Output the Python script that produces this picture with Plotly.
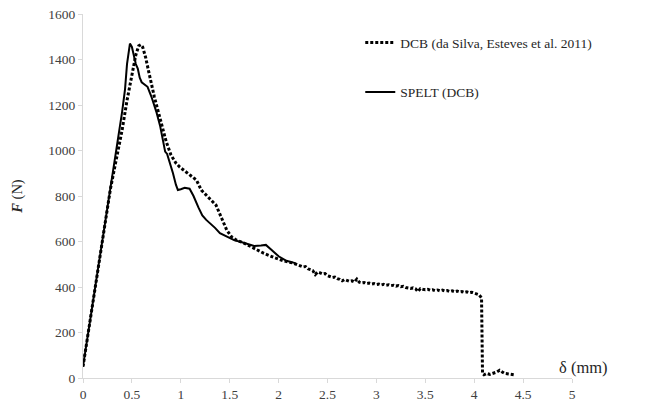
import plotly.graph_objects as go

# SPELT (DCB) - solid curve
spelt_x = [0.0, 0.05, 0.1, 0.15, 0.2, 0.25, 0.3, 0.35, 0.4, 0.43, 0.45, 0.47, 0.48, 0.5,
           0.52, 0.54, 0.56, 0.58, 0.6, 0.63, 0.66, 0.7, 0.75, 0.79, 0.82, 0.84, 0.86, 0.88,
           0.92, 0.95, 0.97, 1.0, 1.04, 1.09, 1.13, 1.18, 1.22, 1.26, 1.3, 1.35, 1.4, 1.47,
           1.55, 1.6, 1.68, 1.75, 1.82, 1.87, 1.92, 2.0, 2.08, 2.17]
spelt_y = [50, 190, 330, 470, 610, 750, 890, 1020, 1170, 1270, 1380, 1440, 1470, 1455,
           1420, 1380, 1360, 1320, 1300, 1290, 1280, 1236, 1170, 1105, 1040, 995, 985, 960,
           900, 850, 826, 830, 836, 832, 800, 750, 715, 695, 680, 660, 637, 621,
           605, 600, 590, 580, 582, 585, 566, 535, 515, 505]

# DCB (da Silva, Esteves et al. 2011) - dotted curve
dcb_x = [0.0, 0.1, 0.2, 0.28, 0.34, 0.4, 0.45, 0.5, 0.54, 0.57, 0.59, 0.61, 0.64, 0.67,
         0.7, 0.73, 0.77, 0.81, 0.85, 0.9, 0.95, 0.99, 1.05, 1.1, 1.16, 1.21, 1.28, 1.36,
         1.42, 1.47, 1.52, 1.57, 1.65, 1.75, 1.85, 1.95, 2.05, 2.15,
         2.2, 2.225, 2.25, 2.275, 2.3, 2.325, 2.35, 2.375, 2.4, 2.425, 2.45, 2.475,
         2.5, 2.525, 2.55, 2.575, 2.6, 2.625, 2.65, 2.675, 2.7, 2.725, 2.75, 2.775,
         2.8, 2.825, 2.85, 2.875, 2.9, 2.925, 2.95, 2.975, 3.0, 3.025, 3.05, 3.075,
         3.1, 3.125, 3.15, 3.175, 3.2, 3.225, 3.25, 3.275, 3.3, 3.325, 3.35, 3.375,
         3.4, 3.425, 3.45, 3.475, 3.5, 3.525, 3.55, 3.575, 3.6, 3.625, 3.65, 3.675,
         3.7, 3.725, 3.75, 3.775, 3.8, 3.825, 3.85, 3.875, 3.9, 3.925, 3.95, 3.975,
         4.0, 4.025, 4.05, 4.075, 4.085, 4.1, 4.13, 4.16, 4.2, 4.23, 4.26, 4.28,
         4.31, 4.35, 4.38, 4.41]
dcb_y = [50, 330, 620, 830, 960, 1090, 1220, 1340, 1420, 1460, 1465, 1455, 1410, 1350,
         1290, 1235, 1170, 1100, 1040, 980, 945, 927, 905, 890, 870, 826, 795, 760,
         700, 650, 620, 606, 592, 570, 548, 530, 515, 505,
         497, 492, 488, 490, 480, 476, 472, 455, 466, 462, 457, 459,
         450, 446, 442, 444, 437, 434, 427, 433, 428, 425, 427, 422,
         435, 421, 418, 420, 415, 417, 413, 415, 411, 413, 409, 412,
         408, 410, 406, 408, 404, 406, 401, 403, 398, 396, 394, 396,
         392, 380, 393, 390, 388, 390, 386, 388, 384, 387, 383, 386,
         382, 384, 380, 383, 379, 382, 378, 380, 376, 379, 375, 377,
         374, 371, 366, 352, 20, 14, 20, 16, 22, 26, 34, 28,
         20, 18, 15, 14]

FONT = "Liberation Serif"

fig = go.Figure()
fig.add_trace(go.Scatter(
    x=dcb_x, y=dcb_y, mode="lines", name="DCB (da Silva, Esteves et al. 2011)",
    line=dict(color="black", width=3, dash="3px,2px"), legendgroup="a"))
fig.add_trace(go.Scatter(
    x=spelt_x, y=spelt_y, mode="lines", name="SPELT (DCB)",
    line=dict(color="black", width=2), legendgroup="b"))

axis_style = dict(showline=True, linecolor="#d9d9d9", linewidth=1, ticks="outside",
                  ticklen=4, tickcolor="#d9d9d9", showgrid=False, zeroline=False,
                  automargin=False,
                  tickfont=dict(family=FONT, size=13.5, color="#404040"))

fig.update_layout(
    template="none",
    width=646, height=402,
    margin=dict(l=83, r=74, t=14, b=24),
    paper_bgcolor="white", plot_bgcolor="white",
    font=dict(family=FONT, color="#262626"),
    xaxis=dict(range=[0, 5], dtick=0.5, **axis_style),
    yaxis=dict(range=[0, 1600], dtick=200, **axis_style,
               title=dict(text="<b><i>F</i></b> (N)", standoff=22,
                          font=dict(family=FONT, size=14.5, color="#262626"))),
    legend=dict(x=0.567, y=0.964, xanchor="left", yanchor="top",
                font=dict(family=FONT, size=13.5, color="#262626"),
                itemwidth=30, tracegroupgap=29, traceorder="grouped",
                bgcolor="rgba(0,0,0,0)"),
    showlegend=True,
)
fig.add_annotation(x=1.024, y=0.03, xref="paper", yref="paper", text="δ (mm)",
                   showarrow=False, xanchor="center", yanchor="middle",
                   font=dict(family=FONT, size=16.5, color="#262626"))

fig.write_html("out.html")
